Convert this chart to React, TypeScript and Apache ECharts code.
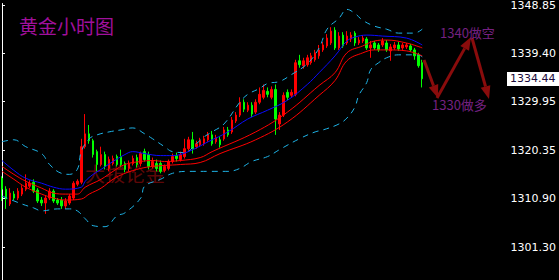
import React, { useEffect, useRef } from "react";
import * as echarts from "echarts";

// ---- candle data (hourly gold) ----
const opens = [
  1314.88, 1312.74, 1309.83, 1311.77, 1310.99, 1311.77, 1312.74, 1313.32, 1314.10, 1312.55,
  1310.60, 1310.02, 1310.99, 1312.35, 1310.60, 1310.60, 1309.44, 1310.02, 1310.99, 1313.71,
  1314.10, 1321.09, 1323.61, 1322.26, 1320.12, 1317.59, 1319.54, 1316.82, 1317.79, 1319.15,
  1319.15, 1317.79, 1316.82, 1317.79, 1318.95, 1317.79, 1320.12, 1319.54, 1317.21, 1317.79,
  1317.79, 1316.43, 1316.82, 1318.18, 1319.34, 1318.57, 1319.15, 1320.70, 1322.45, 1321.09,
  1321.48, 1321.67, 1322.45, 1323.42, 1322.06, 1322.45, 1322.64, 1324.39, 1323.99, 1326.14,
  1327.30, 1329.83, 1328.27, 1329.25, 1327.89, 1329.83, 1330.80, 1331.97, 1330.80, 1332.35,
  1325.56, 1327.30, 1331.77, 1331.19, 1331.38, 1337.98, 1337.01, 1337.21, 1337.60, 1338.18,
  1338.95, 1340.12, 1340.90, 1341.48, 1344.00, 1340.51, 1343.03, 1341.48, 1342.26, 1343.42,
  1341.48, 1341.87, 1342.26, 1340.51, 1341.48, 1341.09, 1341.09, 1341.48, 1339.93, 1340.51,
  1341.09, 1340.51, 1340.70, 1340.90, 1340.12, 1339.15, 1337.60,
];
const closes = [
  1312.74, 1310.80, 1311.97, 1310.99, 1312.35, 1312.94, 1313.91, 1313.91, 1312.35, 1310.41,
  1310.02, 1310.99, 1312.35, 1310.41, 1310.02, 1309.44, 1310.41, 1311.38, 1313.91, 1314.30,
  1321.09, 1323.61, 1322.26, 1319.54, 1317.59, 1319.54, 1317.21, 1318.57, 1318.76, 1317.59,
  1317.59, 1316.63, 1317.79, 1318.76, 1317.59, 1319.73, 1318.57, 1317.21, 1318.18, 1316.82,
  1316.24, 1317.21, 1318.18, 1319.15, 1318.76, 1319.54, 1320.70, 1322.45, 1320.70, 1321.67,
  1322.26, 1322.64, 1323.42, 1321.67, 1322.84, 1321.48, 1324.39, 1323.42, 1326.33, 1327.30,
  1329.83, 1328.47, 1329.25, 1327.50, 1329.83, 1331.38, 1332.16, 1331.38, 1332.35, 1326.53,
  1327.30, 1331.19, 1330.80, 1331.77, 1337.60, 1337.21, 1337.98, 1338.57, 1338.95, 1339.54,
  1340.12, 1341.09, 1342.45, 1343.81, 1340.51, 1342.84, 1340.90, 1342.84, 1343.03, 1341.48,
  1342.06, 1342.45, 1340.51, 1341.09, 1340.51, 1340.12, 1341.87, 1340.12, 1340.70, 1341.09,
  1340.31, 1341.09, 1341.09, 1340.12, 1338.95, 1337.01, 1334.44,
];
const lows = [
  1310.41, 1308.86, 1309.44, 1310.60, 1310.60, 1311.38, 1312.35, 1312.94, 1311.97, 1310.02,
  1309.44, 1307.89, 1310.60, 1310.02, 1309.64, 1308.86, 1308.86, 1309.64, 1310.60, 1313.32,
  1313.71, 1320.70, 1321.67, 1318.95, 1316.24, 1317.21, 1316.63, 1316.24, 1317.40, 1317.21,
  1317.01, 1316.04, 1316.24, 1317.40, 1317.01, 1317.21, 1318.18, 1316.63, 1316.82, 1316.24,
  1315.85, 1316.04, 1316.43, 1317.79, 1318.18, 1318.18, 1318.76, 1320.31, 1319.73, 1320.70,
  1321.09, 1321.28, 1322.06, 1321.28, 1321.67, 1320.90, 1322.26, 1323.03, 1323.61, 1325.75,
  1326.92, 1327.89, 1327.89, 1326.92, 1327.50, 1329.44, 1330.41, 1330.80, 1330.41, 1323.42,
  1324.39, 1326.92, 1330.22, 1330.80, 1331.00, 1336.62, 1336.43, 1336.82, 1337.21, 1337.79,
  1338.37, 1339.73, 1340.51, 1341.09, 1340.12, 1340.12, 1340.51, 1341.09, 1341.67, 1340.90,
  1341.09, 1341.48, 1340.12, 1338.57, 1340.12, 1339.73, 1340.70, 1339.73, 1337.98, 1340.12,
  1339.93, 1340.12, 1340.31, 1339.73, 1338.18, 1336.62, 1332.74,
];
const highs = [
  1315.27, 1313.32, 1312.94, 1312.35, 1312.94, 1313.52, 1315.65, 1314.49, 1314.68, 1312.94,
  1311.19, 1311.58, 1312.94, 1312.74, 1310.99, 1311.19, 1310.99, 1311.77, 1314.30, 1314.68,
  1322.64, 1327.50, 1325.36, 1322.64, 1320.51, 1321.09, 1320.12, 1319.15, 1319.34, 1319.54,
  1320.51, 1318.18, 1318.37, 1319.34, 1319.54, 1320.12, 1320.70, 1320.12, 1318.95, 1318.57,
  1318.37, 1317.59, 1318.57, 1319.73, 1319.93, 1320.12, 1322.64, 1323.03, 1323.99, 1322.26,
  1322.84, 1323.23, 1323.99, 1324.19, 1323.42, 1323.03, 1324.97, 1324.97, 1326.92, 1327.89,
  1330.80, 1330.41, 1329.83, 1329.83, 1330.41, 1332.74, 1333.32, 1332.74, 1332.94, 1333.32,
  1327.89, 1331.77, 1332.35, 1332.35, 1338.18, 1339.15, 1338.57, 1339.15, 1339.54, 1340.12,
  1341.09, 1341.67, 1343.23, 1344.58, 1344.58, 1343.61, 1343.61, 1343.81, 1343.61, 1343.81,
  1342.64, 1343.03, 1342.64, 1341.87, 1341.87, 1341.48, 1342.45, 1342.06, 1341.29, 1341.67,
  1341.67, 1341.48, 1341.48, 1341.29, 1340.51, 1339.54, 1338.18,
];

// ---- indicator lines, read at sampled bars: [bar index, price] ----
const maBlue = [
  [0, 1318.37], [3, 1316.43], [6, 1314.88], [10, 1313.91], [13, 1313.13], [16, 1312.74],
  [20, 1313.13], [21, 1314.3], [23, 1315.65], [25, 1316.63], [28, 1318.18], [31, 1319.54],
  [33, 1320.12], [36, 1319.73], [40, 1319.34], [43, 1319.34], [47, 1320.12], [52, 1322.06],
  [57, 1324.0], [62, 1326.53], [67, 1328.27], [72, 1330.22], [77, 1333.32], [80, 1335.65],
  [84, 1338.95], [87, 1341.87], [89, 1342.64], [92, 1343.03], [96, 1342.84], [102, 1342.45],
  [106, 1341.09],
];
const maRedFast = [
  [0, 1317.21], [3, 1315.65], [6, 1314.3], [10, 1312.94], [13, 1311.97], [16, 1311.77],
  [19, 1311.77], [21, 1313.13], [25, 1314.68], [28, 1316.24], [31, 1317.59], [35, 1318.18],
  [38, 1318.37], [41, 1318.18], [45, 1318.37], [50, 1318.95], [53, 1320.12], [64, 1324.0],
  [72, 1327.89], [80, 1333.13], [84, 1335.65], [87, 1339.54], [91, 1340.9], [94, 1341.87],
  [97, 1342.06], [102, 1341.48], [106, 1340.51],
];
const maRedSlow = [
  [0, 1316.24], [3, 1314.68], [6, 1313.13], [10, 1311.77], [13, 1310.99], [16, 1310.6],
  [20, 1310.8], [22, 1311.77], [25, 1312.94], [28, 1314.68], [31, 1315.85], [35, 1316.82],
  [38, 1317.21], [41, 1317.4], [45, 1317.59], [50, 1317.98], [55, 1319.73], [64, 1322.45],
  [72, 1325.95], [80, 1331.19], [84, 1334.1], [87, 1337.98], [91, 1339.54], [94, 1340.12],
  [97, 1340.12], [102, 1339.93], [106, 1338.95],
];
const bollUpper = [
  [0, 1322.06], [3, 1322.45], [6, 1321.09], [10, 1319.73], [12, 1317.59], [15, 1315.85],
  [17, 1315.65], [19, 1316.63], [20, 1320.12], [22, 1322.64], [24, 1323.42], [27, 1324.0],
  [30, 1324.39], [33, 1324.78], [36, 1323.61], [38, 1322.64], [41, 1321.09], [43, 1320.12],
  [46, 1319.93], [49, 1321.67], [51, 1323.03], [53, 1324.0], [56, 1325.56], [60, 1329.83],
  [62, 1331.38], [65, 1332.55], [67, 1333.52], [70, 1333.91], [73, 1335.26], [77, 1337.4],
  [80, 1340.51], [82, 1344.2], [85, 1346.33], [87, 1348.08], [89, 1347.3], [91, 1345.94],
  [94, 1344.78], [97, 1344.2], [100, 1343.42], [104, 1343.42], [106, 1344.2],
];
const bollLower = [
  [0, 1311.38], [5, 1309.83], [8, 1309.05], [10, 1308.47], [14, 1308.86], [17, 1308.86],
  [19, 1308.47], [21, 1306.92], [23, 1305.56], [26, 1305.36], [29, 1307.5], [31, 1308.08],
  [35, 1310.99], [36, 1313.32], [40, 1314.68], [43, 1315.85], [47, 1316.24], [52, 1316.24],
  [57, 1316.24], [60, 1316.82], [63, 1318.18], [67, 1319.15], [70, 1320.51], [75, 1322.64],
  [79, 1324.0], [81, 1324.39], [85, 1325.56], [87, 1326.72], [89, 1328.86], [90, 1331.19],
  [92, 1333.71], [93, 1336.23], [95, 1337.6], [97, 1338.57], [100, 1339.15], [105, 1339.15],
  [106, 1338.76],
];

const yTicks = [1348.85, 1339.4, 1329.95, 1320.35, 1310.9, 1301.3];
const lastPrice = 1334.44;
const slotCount = 127;
const chartTitle = "黄金小时图";
const watermark = "大拔论金";
const noteShort = "1340做空";
const noteLong = "1330做多";

const CJK = "'Noto Sans CJK SC', sans-serif";
const AXIS_FONT = "'DejaVu Sans', sans-serif";

function arrow(ax: number, ay: number, bx: number, by: number, color: string) {
  const dx = bx - ax;
  const dy = by - ay;
  const len = Math.hypot(dx, dy);
  const ux = dx / len;
  const uy = dy / len;
  const hl = 13;
  const hw = 5;
  const cx = bx - ux * hl;
  const cy = by - uy * hl;
  const px = -uy;
  const py = ux;
  return [
    {
      type: "line",
      z: 10,
      shape: { x1: ax, y1: ay, x2: cx, y2: cy },
      style: { stroke: color, lineWidth: 3 },
    },
    {
      type: "polygon",
      z: 10,
      shape: {
        points: [
          [bx, by],
          [cx + px * hw, cy + py * hw],
          [cx - px * hw, cy - py * hw],
        ],
      },
      style: { fill: color },
    },
  ];
}

export default function App() {
  const ref = useRef<HTMLDivElement>(null);

  useEffect(() => {
    if (!ref.current) return;
    const chart = echarts.init(ref.current, null, { renderer: "svg" });
    const categories = Array.from({ length: slotCount }, (_, i) => String(i));
    const candles = opens.map((o, i) => [o, closes[i], lows[i], highs[i]]);
    const arrowColor = "#8a0c0c";

    const lineSeries = (data: number[][], color: string, dashed: boolean) => ({
      type: "line",
      xAxisIndex: 1,
      yAxisIndex: 0,
      data,
      showSymbol: false,
      smooth: 0.4,
      silent: true,
      lineStyle: { color, width: 1, type: dashed ? [6, 5] : "solid" },
      z: 3,
    });

    const staticGraphics: any[] = [
      {
        type: "text",
        x: 19,
        y: 25,
        z: 10,
        style: {
          text: chartTitle,
          fill: "#a0109c",
          fontSize: 19,
          fontFamily: CJK,
          align: "left",
          verticalAlign: "middle",
        },
      },
      {
        type: "text",
        x: 85,
        y: 173,
        z: 0,
        style: {
          text: watermark,
          fill: "rgba(120,10,10,0.8)",
          fontSize: 20,
          fontFamily: CJK,
          align: "left",
          verticalAlign: "middle",
        },
      },
      ...arrow(424, 60, 438, 98, arrowColor),
      ...arrow(437, 98, 471, 37, arrowColor),
      ...arrow(472, 38, 489, 99, arrowColor),
      {
        type: "text",
        x: 440,
        y: 32,
        z: 11,
        style: {
          text: noteShort,
          fill: "#752080",
          fontSize: 13,
          fontFamily: CJK,
          align: "left",
          verticalAlign: "middle",
        },
      },
      {
        type: "text",
        x: 432,
        y: 104,
        z: 11,
        style: {
          text: noteLong,
          fill: "#752080",
          fontSize: 13,
          fontFamily: CJK,
          align: "left",
          verticalAlign: "middle",
        },
      },
    ];

    chart.setOption({
      animation: false,
      backgroundColor: "#000000",
      grid: { left: 0, right: 53, top: 0, bottom: 0 },
      xAxis: [
        { type: "category", data: categories, boundaryGap: true, show: false },
        { type: "value", min: -0.5, max: slotCount - 0.5, show: false },
      ],
      yAxis: [
        {
          type: "value",
          position: "right",
          min: 1294.88,
          max: 1349.24,
          splitLine: { show: false },
          axisLine: { show: true, lineStyle: { color: "#ffffff", width: 1 } },
          axisTick: {
            show: true,
            length: 3,
            customValues: yTicks,
            lineStyle: { color: "#ffffff" },
          },
          axisLabel: {
            show: true,
            customValues: yTicks,
            margin: 7,
            color: "#ffffff",
            fontFamily: AXIS_FONT,
            fontSize: 11,
            formatter: (v: number) => v.toFixed(2),
          },
        },
      ],
      series: [
        {
          type: "candlestick",
          xAxisIndex: 0,
          yAxisIndex: 0,
          data: candles,
          barWidth: 2,
          itemStyle: {
            color: "#ff0000",
            color0: "#00ff00",
            borderColor: "#ff0000",
            borderColor0: "#00ff00",
            borderWidth: 1,
          },
          z: 2,
        },
        lineSeries(bollUpper, "#1eb4e8", true),
        lineSeries(bollLower, "#1eb4e8", true),
        lineSeries(maRedSlow, "#ff0000", false),
        lineSeries(maRedFast, "#ff0000", false),
        lineSeries(maBlue, "#0a0aff", false),
      ],
      graphic: staticGraphics,
    });

    // current price box on the axis, positioned through the y scale
    const py = chart.convertToPixel({ yAxisIndex: 0 }, lastPrice) as number;
    chart.setOption({
      graphic: [
        ...staticGraphics,
        {
          type: "rect",
          z: 20,
          shape: { x: 507, y: Math.round(py) - 7, width: 52, height: 14 },
          style: { fill: "#ffffff" },
        },
        {
          type: "text",
          z: 21,
          x: 510,
          y: py,
          style: {
            text: lastPrice.toFixed(2),
            fill: "#1c0a3a",
            fontSize: 11,
            fontFamily: AXIS_FONT,
            align: "left",
            verticalAlign: "middle",
          },
        },
      ],
    });

    return () => chart.dispose();
  }, []);

  return (
    <div
      ref={ref}
      style={{ position: "fixed", left: 0, top: 0, width: 559, height: 280, background: "#000" }}
    />
  );
}
